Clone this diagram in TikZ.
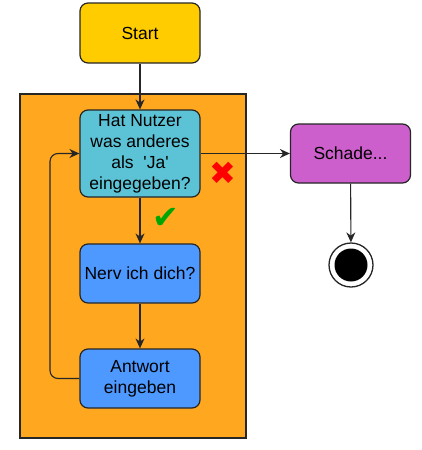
\documentclass[tikz,border=0pt]{standalone}
\usepackage{fontspec}
\newfontfamily\flowfont{Liberation Sans}
\newfontfamily\symfont{DejaVu Sans}
\usetikzlibrary{arrows.meta}
\definecolor{startyellow}{HTML}{FFCC00}
\definecolor{looporange}{HTML}{FFA81F}
\definecolor{askcyan}{HTML}{5CC3D6}
\definecolor{stepblue}{HTML}{4D99FF}
\definecolor{endpurple}{HTML}{CC5FCC}
\tikzset{
  box/.style={draw=black!85, line width=1.2pt, rounded corners=8pt, minimum width=120pt,
    minimum height=59pt, align=center, font=\flowfont\fontsize{17.5}{21}\selectfont, inner sep=0pt},
  arr/.style={-{Stealth[length=10pt,width=9pt]}, line width=1.1pt, draw=black!85}
}
\begin{document}
\begin{tikzpicture}[x=1pt,y=-1pt]
\useasboundingbox (0,0) rectangle (422,450);
% loop area
\draw[fill=looporange, line width=1.5pt, draw=black!85] (20,94) rectangle (246,438);

% boxes top to bottom
\node[box, fill=startyellow, minimum height=60pt] (start) at (140,33) {Start};
\node[box, fill=askcyan, minimum height=87pt] (ask) at (140,153.5) {Hat Nutzer\\was anderes\\als \ 'Ja'\\eingegeben?};
\node[box, fill=stepblue] (nerv) at (140,273.5) {Nerv ich dich?};
\node[box, fill=stepblue] (answer) at (140,378.5) {Antwort\\eingeben};
\node[box, fill=endpurple] (schade) at (350.5,153.5) {Schade...};

% end state
\node[circle, draw=black!85, fill=white, line width=1.3pt, minimum size=44pt, inner sep=0pt] (final) at (351,265) {};
\node[circle, fill=black, minimum size=33pt, inner sep=0pt] (finaldot) at (final) {};

% marks
\node[text=red, font=\symfont\fontsize{32}{32}\selectfont] (no) at (223,173) {✖};
\node[text=green!65!black, font=\symfont\fontsize{32}{32}\selectfont] (yes) at (166,218) {✔};

% connectors
\coordinate (loop) at (50,378.5);
\draw[arr] (start) -- (ask);
\draw[arr] (ask) -- (nerv);
\draw[arr] (nerv) -- (answer);
\draw[arr] (ask) -- (schade);
\draw[arr] (schade) -- (final);
\draw[arr, rounded corners=8pt] (answer.west) -- (loop) |- (ask.west);
\end{tikzpicture}
\end{document}
